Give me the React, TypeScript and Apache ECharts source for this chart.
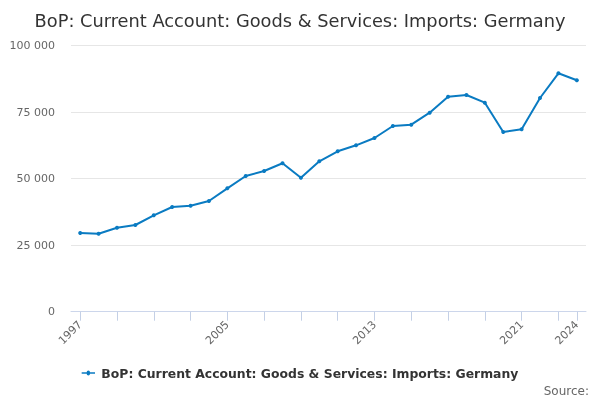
import React, { useEffect, useRef } from "react";
import * as echarts from "echarts";

const years: string[] = [
  "1997", "1998", "1999", "2000", "2001", "2002", "2003", "2004", "2005", "2006",
  "2007", "2008", "2009", "2010", "2011", "2012", "2013", "2014", "2015", "2016",
  "2017", "2018", "2019", "2020", "2021", "2022", "2023", "2024",
];

const imports: number[] = [
  29560, 29300, 31550, 32570, 36200, 39330, 39820, 41590, 46350, 50980,
  52850, 55750, 50340, 56500, 60250, 62500, 65250, 69760, 70250, 74760,
  80770, 81400, 78520, 67500, 68520, 80280, 89560, 86930,
];

const seriesName = "BoP: Current Account: Goods & Services: Imports: Germany";
const titleText = "BoP: Current Account: Goods & Services: Imports: Germany";
const yTicks: number[] = [0, 25000, 50000, 75000, 100000];

const fmt = (v: number) => String(v).replace(/\B(?=(\d{3})+(?!\d))/g, " ");

export default function App() {
  const ref = useRef<HTMLDivElement>(null);
  useEffect(() => {
    if (!ref.current) return;
    const chart = echarts.init(ref.current, undefined, { renderer: "svg" });
    const last = years.length - 1;
    chart.setOption({
      animation: false,
      textStyle: { fontFamily: "DejaVu Sans" },
      title: {
        text: titleText,
        left: "center",
        top: 6,
        textStyle: { fontSize: 17.8, fontWeight: "normal", color: "#333", fontFamily: "DejaVu Sans" },
      },
      grid: { left: 71, right: 14, top: 45.5, bottom: 88.3, containLabel: false },
      xAxis: {
        type: "category",
        data: years,
        boundaryGap: true,
        axisLine: { lineStyle: { color: "#ccd6eb" } },
        axisTick: {
          show: true,
          alignWithLabel: true,
          length: 9,
          lineStyle: { color: "#c4d0e6", width: 1 },
          interval: (i: number) => i % 2 === 0 || i === last,
        },
        axisLabel: {
          interval: (i: number) => i % 8 === 0 || i === last,
          rotate: 45,
          color: "#666",
          fontSize: 11,
          margin: 11,
          fontFamily: "DejaVu Sans",
        },
      },
      yAxis: {
        type: "value",
        min: 0,
        max: 100000,
        interval: 25000,
        axisLine: { show: false },
        axisTick: { show: false },
        splitLine: { lineStyle: { color: "#e6e6e6" } },
        axisLabel: {
          color: "#666",
          fontSize: 11,
          margin: 16,
          fontFamily: "DejaVu Sans",
          formatter: (v: number) => (yTicks.includes(v) ? fmt(v) : ""),
        },
      },
      legend: {
        bottom: 16,
        left: "center",
        itemWidth: 16,
        itemHeight: 5,
        itemGap: 5,
        textStyle: { fontSize: 12.4, fontWeight: "bold", color: "#333", fontFamily: "DejaVu Sans" },
        data: [
          {
            name: seriesName,
            icon: "path://M0,4 L6,4 A2,2 0 1,1 10,4 L16,4 L16,6 L10,6 A2,2 0 1,1 6,6 L0,6 Z",
          },
        ],
      },
      graphic: [
        {
          type: "text",
          right: 11,
          bottom: 3,
          style: { text: "Source:", fontSize: 12, fill: "#666", fontFamily: "DejaVu Sans" },
        },
      ],
      series: [
        {
          name: seriesName,
          type: "line",
          data: imports,
          symbol: "circle",
          symbolSize: 4,
          lineStyle: { color: "#0a7bc2", width: 2 },
          itemStyle: { color: "#0a7bc2" },
        },
      ],
    });
    return () => chart.dispose();
  }, []);
  return <div ref={ref} style={{ position: "fixed", left: 0, top: 0, width: 600, height: 400 }} />;
}
